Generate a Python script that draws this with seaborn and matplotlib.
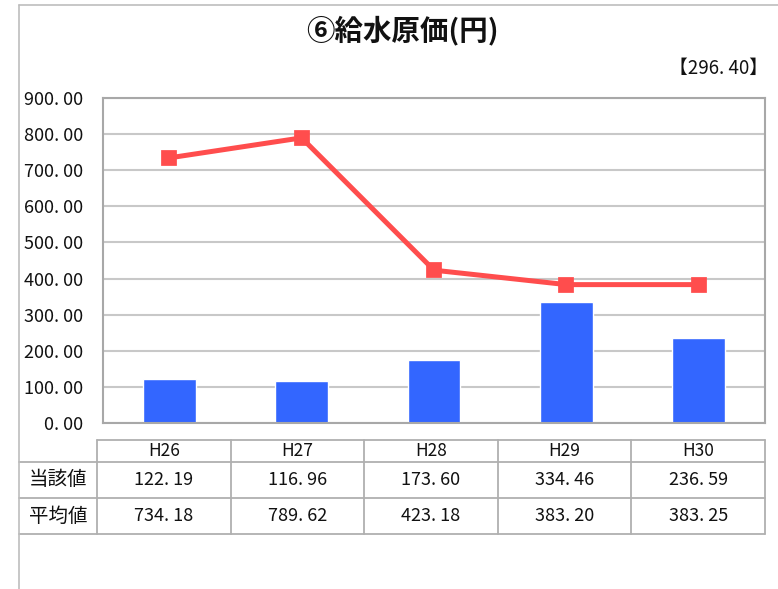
import matplotlib
matplotlib.use('Agg')
import matplotlib.pyplot as plt
import seaborn as sns
from matplotlib.ticker import FuncFormatter
from matplotlib.lines import Line2D

# Data
years = ['H26', 'H27', 'H28', 'H29', 'H30']
own_values = [122.19, 116.96, 173.60, 334.46, 236.59]   # 当該値
avg_values = [734.18, 789.62, 423.18, 383.20, 383.25]   # 平均値
row_labels = ['当該値', '平均値']
overall_avg = 296.40

sns.set_theme(style='white')
plt.rcParams['font.family'] = ['Noto Sans CJK JP', 'DejaVu Sans']

W, H = 778, 589
fig = plt.figure(figsize=(W / 100, H / 100), dpi=100)

def fx(px):
    return px / W

def fy(py):
    return 1 - py / H

def fmt(v):
    return f'{v:.2f}'.replace('.', '. ')

# outer frame (top and left edges)
fig.add_artist(Line2D([fx(19), 1.0], [fy(5), fy(5)], color='#bdbdbd', lw=1.2))
fig.add_artist(Line2D([fx(19), fx(19)], [fy(5), 0.0], color='#bdbdbd', lw=1.2))

# plot area
ax = fig.add_axes([fx(103), fy(423), fx(765) - fx(103), fy(98) - fy(423)])
sns.barplot(x=years, y=own_values, color='#3366FF', width=0.4, saturation=1, ax=ax, zorder=2)
sns.pointplot(x=years, y=avg_values, color='#FF4D4D', markers='s', linewidth=3.6,
              markersize=9, ax=ax, zorder=3)

ax.set_ylim(0, 900)
ax.set_yticks(range(0, 901, 100))
ax.yaxis.set_major_formatter(FuncFormatter(lambda v, p: fmt(v)))
ax.tick_params(axis='y', length=0, labelsize=13, pad=14, colors='#111111')
ax.tick_params(axis='x', length=0, labelbottom=False)
ax.set_xlabel('')
ax.set_ylabel('')
ax.grid(axis='y', color='#c8c8c8', lw=1.5, zorder=0)
ax.set_axisbelow(True)
for s in ax.spines.values():
    s.set_visible(True)
    s.set_color('#a8a8a8')
    s.set_linewidth(1.5)

# title and overall average
fig.text(fx(402), fy(30), '⑥給水原価(円)', ha='center', va='center', fontsize=20.5,
         fontweight='bold', color='#111111')
fig.text(fx(768), fy(68), f'【{fmt(overall_avg)}】', ha='right',
         va='center', fontsize=13.5, color='#111111')

# data table, drawn in a pixel-coordinate axes
tax = fig.add_axes([fx(19), fy(534), fx(765) - fx(19), fy(440) - fy(534)])
tax.set_xlim(19, 765)
tax.set_ylim(534, 440)
tax.axis('off')
grid_color = '#b0b0b0'
col_left, col_w = 97, (765 - 97) / len(years)
row_tops = [440, 462, 498, 534]
edges = [col_left + i * col_w for i in range(len(years) + 1)]
tax.plot([col_left, 765], [440, 440], color=grid_color, lw=1.3, clip_on=False)
for y in row_tops[1:]:
    tax.plot([19, 765], [y, y], color=grid_color, lw=1.3, clip_on=False)
for x in edges:
    tax.plot([x, x], [440, 534], color=grid_color, lw=1.3, clip_on=False)

rows = [years, [fmt(v) for v in own_values], [fmt(v) for v in avg_values]]
for r, row in enumerate(rows):
    yc = (row_tops[r] + row_tops[r + 1]) / 2
    for i, s in enumerate(row):
        tax.text(col_left + (i + 0.5) * col_w, yc, s, ha='center', va='center',
                 fontsize=13 if r else 12.5, color='#111111')
    if r > 0:
        tax.text((19 + col_left) / 2, yc, row_labels[r - 1], ha='center', va='center',
                 fontsize=14, color='#111111')

fig.savefig('out.png', dpi=100)
